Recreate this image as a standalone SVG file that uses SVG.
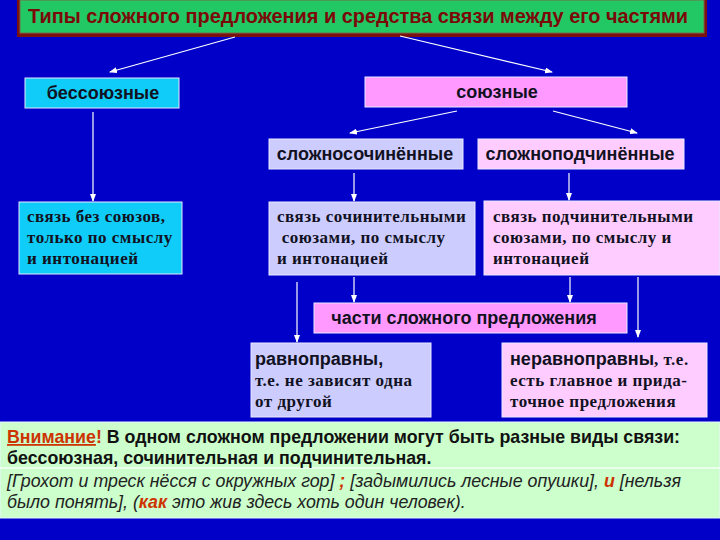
<svg xmlns="http://www.w3.org/2000/svg" width="720" height="540" viewBox="0 0 720 540">
<defs>
<marker id="ah" markerUnits="userSpaceOnUse" markerWidth="8" markerHeight="6" refX="7" refY="3" orient="auto">
<path d="M0,0 L8,3 L0,6 Z" fill="#ffffff"/>
</marker>
<style>
.bg{fill:#0000C8}
.box{stroke:#e8e8ff;stroke-width:1}
.cyan{fill:#10CCF8}
.lav{fill:#CCCCFF}
.lpink{fill:#FFCCFF}
.mpink{fill:#FF99FF}
.sans{font-family:"Liberation Sans",Arial,sans-serif;font-weight:bold;font-size:18px;fill:#111122}
.serif{font-family:"Liberation Serif","Times New Roman",serif;font-weight:bold;font-size:17px;fill:#111122;letter-spacing:0.5px}
.conn line{stroke:#ffffff;stroke-width:1.2;marker-end:url(#ah)}
.note{font-family:"Liberation Sans",Arial,sans-serif;font-weight:bold;font-size:17.8px;fill:#111111}
.ital{font-family:"Liberation Sans",Arial,sans-serif;font-style:italic;font-size:17.8px;fill:#222222}
.hl{fill:#CC3300;font-weight:bold}
</style>
</defs>
<rect class="bg" x="0" y="0" width="720" height="540"/>

<g id="title">
<rect x="17" y="-3" width="690" height="40" fill="#7a1010"/>
<rect x="20" y="0" width="684" height="33" fill="#22C864" stroke="#7a6a4a" stroke-width="1"/>
<text x="28" y="23" font-family="Liberation Sans, Arial, sans-serif" font-weight="bold" font-size="19.5" fill="#7a0a0a" textLength="660" lengthAdjust="spacingAndGlyphs">Типы сложного предложения и средства связи между его частями</text>
</g>

<g id="n-bessoyuz">
<rect class="box cyan" x="25" y="78" width="154" height="30"/>
<text class="sans" x="103" y="99" text-anchor="middle">бессоюзные</text>
</g>

<g id="n-soyuz">
<rect class="box mpink" x="365" y="77" width="262" height="30"/>
<text class="sans" x="497" y="98" text-anchor="middle">союзные</text>
</g>

<g id="n-slozhnosoch">
<rect class="box lav" x="269" y="139" width="194" height="30"/>
<text class="sans" x="365" y="160" text-anchor="middle">сложносочинённые</text>
</g>

<g id="n-slozhnopodch">
<rect class="box lpink" x="478" y="139" width="206" height="30"/>
<text class="sans" x="580" y="160" text-anchor="middle">сложноподчинённые</text>
</g>

<g id="n-bez">
<rect class="box cyan" x="19" y="202" width="163" height="72"/>
<text class="serif" x="27" y="222">связь без союзов,</text>
<text class="serif" x="27" y="243">только по смыслу</text>
<text class="serif" x="27" y="264">и интонацией</text>
</g>

<g id="n-soch">
<rect class="box lav" x="269" y="202" width="206" height="73"/>
<text class="serif" x="277" y="222">связь сочинительными</text>
<text class="serif" x="277" y="243" xml:space="preserve"> союзами, по смыслу</text>
<text class="serif" x="277" y="264">и интонацией</text>
</g>

<g id="n-podch">
<rect class="box lpink" x="484" y="201" width="236" height="74"/>
<text class="serif" x="493" y="222">связь подчинительными</text>
<text class="serif" x="493" y="243">союзами, по смыслу и</text>
<text class="serif" x="493" y="264">интонацией</text>
</g>

<g id="n-chasti">
<rect class="box mpink" x="314" y="303" width="313" height="30"/>
<text class="sans" x="464" y="324" text-anchor="middle">части сложного предложения</text>
</g>

<g id="n-ravno">
<rect class="box lav" x="251" y="343" width="180" height="74"/>
<text class="sans" x="255" y="365">равноправны,</text>
<text class="serif" x="255" y="386">т.е. не зависят одна</text>
<text class="serif" x="255" y="407">от другой</text>
</g>

<g id="n-neravno">
<rect class="box lpink" x="502" y="343" width="205" height="74"/>
<text x="510" y="365"><tspan class="sans">неравноправны</tspan><tspan class="serif">, т.е.</tspan></text>
<text class="serif" x="510" y="386">есть главное и прида-</text>
<text class="serif" x="510" y="407">точное предложения</text>
</g>

<g class="conn" id="connectors">
<line x1="235" y1="37" x2="110" y2="72"/>
<line x1="400" y1="36" x2="552" y2="72"/>
<line x1="457" y1="111" x2="350" y2="133"/>
<line x1="553" y1="111" x2="637" y2="133"/>
<line x1="93" y1="112" x2="93" y2="201"/>
<line x1="354" y1="173" x2="354" y2="201"/>
<line x1="569" y1="173" x2="569" y2="200"/>
<line x1="297" y1="282" x2="297" y2="342"/>
<line x1="354" y1="277" x2="354" y2="302"/>
<line x1="570" y1="277" x2="570" y2="302"/>
<line x1="638" y1="277" x2="638" y2="337"/>
</g>

<g id="note">
<rect x="0" y="422" width="720" height="96" fill="#CCFFCC" stroke="#e8f4ff" stroke-width="1"/>
<line x1="0" y1="468" x2="720" y2="468" stroke="#f4fff4" stroke-width="1.5"/>
<text class="note" x="7" y="443"><tspan class="hl" text-decoration="underline">Внимание</tspan><tspan class="hl">!</tspan> В одном сложном предложении могут быть разные виды связи:</text>
<text class="note" x="7" y="464">бессоюзная, сочинительная и подчинительная.</text>
<text class="ital" x="7" y="487">[Грохот и треск нёсся с окружных гор] <tspan class="hl">;</tspan> [задымились лесные опушки], <tspan class="hl">и</tspan> [нельзя</text>
<text class="ital" x="7" y="508">было понять], (<tspan class="hl">как</tspan> это жив здесь хоть один человек).</text>
</g>
</svg>
